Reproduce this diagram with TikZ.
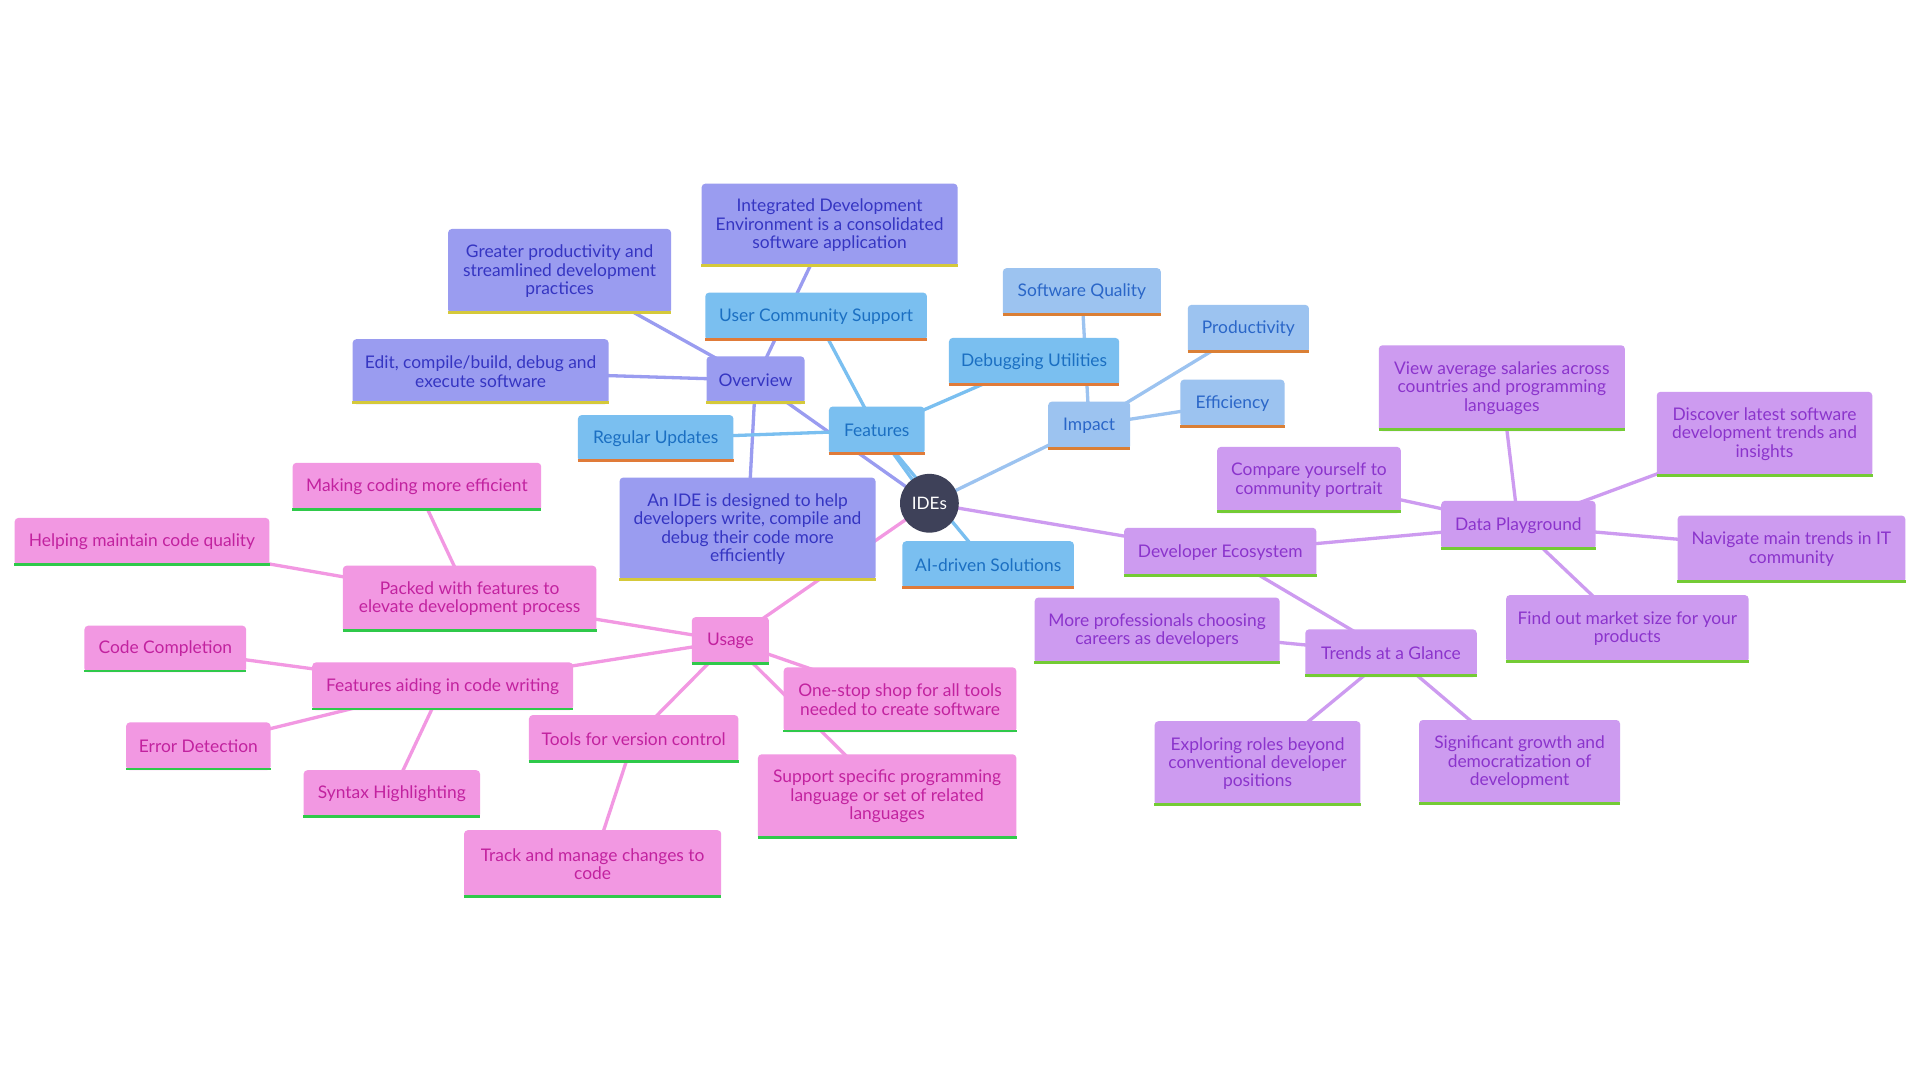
\documentclass[tikz,border=0pt]{standalone}
\usepackage{fontspec}
\setmainfont{Lato}
\usetikzlibrary{backgrounds}
\pgfdeclarelayer{bottom}
\pgfsetlayers{bottom,background,main}
\definecolor{lavF}{HTML}{9A9CF0}\definecolor{lavT}{HTML}{3535C2}\definecolor{lavA}{HTML}{D5C93A}
\definecolor{bluF}{HTML}{7ABFF0}\definecolor{bluT}{HTML}{1B6FC2}\definecolor{bluA}{HTML}{E07B39}
\definecolor{lblF}{HTML}{9CC3F0}\definecolor{lblT}{HTML}{2A66C8}\definecolor{lblA}{HTML}{DA7F35}
\definecolor{pnkF}{HTML}{F298E2}\definecolor{pnkT}{HTML}{C2229F}\definecolor{pnkA}{HTML}{2FC94A}
\definecolor{purF}{HTML}{CD9BF0}\definecolor{purT}{HTML}{8B34CC}\definecolor{purA}{HTML}{74CB35}
\definecolor{ideF}{HTML}{3E4159}
\tikzset{
  box/.style={rounded corners=3pt, inner sep=0pt, align=center, font=\fontsize{14.2}{15}\selectfont},
  lav/.style={fill=lavF, text=lavT}, lav acc/.style={draw=lavA, line width=2.4pt},
  blu/.style={fill=bluF, text=bluT}, blu acc/.style={draw=bluA, line width=2.4pt},
  lbl/.style={fill=lblF, text=lblT}, lbl acc/.style={draw=lblA, line width=2.4pt},
  pnk/.style={fill=pnkF, text=pnkT}, pnk acc/.style={draw=pnkA, line width=2.4pt},
  pur/.style={fill=purF, text=purT}, pur acc/.style={draw=purA, line width=2.4pt},
  edge/.style={line width=2.7pt},
  lavE/.style={edge, draw=lavF}, bluE/.style={edge, draw=bluF}, lblE/.style={edge, draw=lblF},
  pnkE/.style={edge, draw=pnkF}, purE/.style={edge, draw=purF},
}
\newcommand\mnode[7]{%
  \node[box,#6,minimum width={(#4-#2)*1pt},minimum height={(#5-#3)*1pt}] (#1) at ({(#2+#4)/2},{-(#3+#5)/2}) {#7};
  \draw[#6 acc] ([yshift=1.2pt]#1.south west) -- ([yshift=1.2pt]#1.south east);
}
\newcommand\edg[3]{\draw[#1] (#2.center) -- (#3.center);}
\begin{document}
\begin{tikzpicture}[x=1pt,y=1pt]
\begin{pgfonlayer}{bottom}
\fill[white] (0,0) rectangle (1568,-882);
\end{pgfonlayer}
\useasboundingbox (0,0) rectangle (1568,-882);
\node[circle, fill=ideF, minimum size=48pt, inner sep=0pt, text=white, font=\fontsize{14}{15}\selectfont] (ides) at (759,-411) {IDEs};
% Overview branch
\mnode{idec}{573}{150}{782}{218}{lav}{Integrated Development\\Environment is a consolidated\\software application}
\mnode{grp}{366}{187}{548}{256}{lav}{Greater productivity and\\streamlined development\\practices}
\mnode{edit}{288}{277}{497}{330}{lav}{Edit, compile/build, debug and\\execute software}
\mnode{ovw}{577}{291}{657}{330}{lav}{Overview}
\mnode{ide2}{506}{390}{715}{474}{lav}{An IDE is designed to help\\developers write, compile and\\debug their code more\\efficiently}
% Features branch
\mnode{ucs}{576}{239}{757}{278}{blu}{User Community Support}
\mnode{reg}{472}{339}{599}{377}{blu}{Regular Updates}
\mnode{feat}{677}{332}{755}{371}{blu}{Features}
\mnode{dbg}{775}{276}{914}{315}{blu}{Debugging Utilities}
\mnode{ai}{737}{442}{877}{481}{blu}{AI-driven Solutions}
% Impact branch
\mnode{sq}{819}{219}{948}{258}{lbl}{Software Quality}
\mnode{prod}{970}{249}{1069}{288}{lbl}{Productivity}
\mnode{eff}{964}{310}{1049}{349}{lbl}{Efficiency}
\mnode{imp}{856}{328}{923}{367}{lbl}{Impact}
% Usage branch
\mnode{mce}{239}{378}{442}{417}{pnk}{Making coding more efficient}
\mnode{hmc}{12}{423}{220}{462}{pnk}{Helping maintain code quality}
\mnode{pwf}{280}{462}{487}{516}{pnk}{Packed with features to\\elevate development process}
\mnode{cc}{69}{511}{201}{549}{pnk}{Code Completion}
\mnode{faw}{255}{541}{468}{580}{pnk}{Features aiding in code writing}
\mnode{usg}{565}{504}{628}{543}{pnk}{Usage}
\mnode{ed}{103}{590}{221}{629}{pnk}{Error Detection}
\mnode{sh}{248}{629}{392}{668}{pnk}{Syntax Highlighting}
\mnode{tvc}{432}{584}{603}{623}{pnk}{Tools for version control}
\mnode{oss}{640}{545}{830}{598}{pnk}{One-stop shop for all tools\\needed to create software}
\mnode{ssp}{619}{616}{830}{685}{pnk}{Support specific programming\\language or set of related\\languages}
\mnode{tmc}{379}{678}{589}{733}{pnk}{Track and manage changes to\\code}
% Developer Ecosystem branch
\mnode{vas}{1126}{282}{1327}{352}{pur}{View average salaries across\\countries and programming\\languages}
\mnode{dls}{1353}{320}{1529}{389}{pur}{Discover latest software\\development trends and\\insights}
\mnode{cyc}{994}{365}{1144}{419}{pur}{Compare yourself to\\community portrait}
\mnode{dp}{1177}{409}{1303}{449}{pur}{Data Playground}
\mnode{nmt}{1370}{421}{1556}{476}{pur}{Navigate main trends in IT\\community}
\mnode{de}{918}{431}{1075}{471}{pur}{Developer Ecosystem}
\mnode{fom}{1230}{486}{1428}{541}{pur}{Find out market size for your\\products}
\mnode{mpc}{845}{488}{1045}{542}{pur}{More professionals choosing\\careers as developers}
\mnode{tag}{1066}{514}{1206}{553}{pur}{Trends at a Glance}
\mnode{erb}{943}{589}{1111}{658}{pur}{Exploring roles beyond\\conventional developer\\positions}
\mnode{sgd}{1159}{588}{1323}{657}{pur}{Significant growth and\\democratization of\\development}
\begin{scope}[on background layer]
\edg{lavE}{ides}{ovw}\edg{lavE}{ovw}{idec}\edg{lavE}{ovw}{grp}\edg{lavE}{ovw}{edit}\edg{lavE}{ovw}{ide2}
\edg{bluE}{ides}{feat}\edg{bluE}{feat}{ucs}\edg{bluE}{feat}{reg}\edg{bluE}{feat}{dbg}\edg{bluE}{feat}{ai}
\edg{lblE}{ides}{imp}\edg{lblE}{imp}{sq}\edg{lblE}{imp}{prod}\edg{lblE}{imp}{eff}
\edg{pnkE}{ides}{usg}\edg{pnkE}{usg}{pwf}\edg{pnkE}{usg}{faw}\edg{pnkE}{usg}{tvc}\edg{pnkE}{usg}{oss}\edg{pnkE}{usg}{ssp}
\edg{pnkE}{pwf}{mce}\edg{pnkE}{pwf}{hmc}\edg{pnkE}{faw}{cc}\edg{pnkE}{faw}{ed}\edg{pnkE}{faw}{sh}\edg{pnkE}{tvc}{tmc}
\edg{purE}{ides}{de}\edg{purE}{de}{dp}\edg{purE}{de}{tag}\edg{purE}{dp}{vas}\edg{purE}{dp}{dls}\edg{purE}{dp}{cyc}
\edg{purE}{dp}{nmt}\edg{purE}{dp}{fom}\edg{purE}{tag}{mpc}\edg{purE}{tag}{erb}\edg{purE}{tag}{sgd}
\end{scope}
\end{tikzpicture}
\end{document}
